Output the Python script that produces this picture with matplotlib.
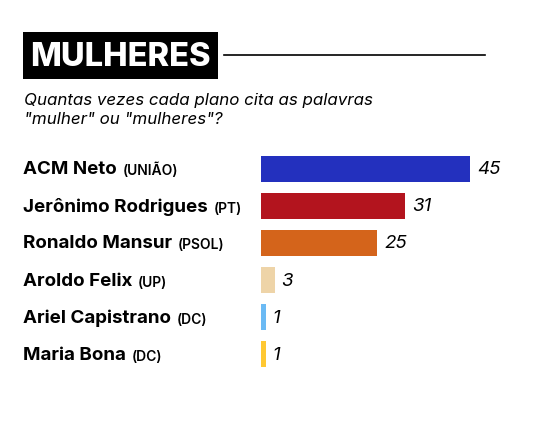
import matplotlib
matplotlib.use('Agg')
from matplotlib import pyplot as plt
from matplotlib.patches import Rectangle
from matplotlib.transforms import blended_transform_factory

names = ['ACM Neto', 'Jerônimo Rodrigues', 'Ronaldo Mansur', 'Aroldo Felix',
         'Ariel Capistrano', 'Maria Bona']
parties = ['(UNIÃO)', '(PT)', '(PSOL)', '(UP)', '(DC)', '(DC)']
counts = [45, 31, 25, 3, 1, 1]
colors = ['#2330BE', '#B3141E', '#D4641B', '#EED4A8', '#6BBAF4', '#FFC832']

W, H = 546, 431
fig = plt.figure(figsize=(W / 100, H / 100), dpi=100)
fig.patch.set_facecolor('white')

def fx(px):
    return px / W

def fy(py):
    return 1 - py / H

# title block
fig.patches.append(Rectangle((fx(23), fy(80)), fx(218) - fx(23), fy(33) - fy(80),
                             transform=fig.transFigure, facecolor='black',
                             edgecolor='none'))
fig.text(fx(120.5), fy(57), 'MULHERES', color='white', fontsize=23.5,
         fontweight='heavy', family='Inter', ha='center', va='center')
fig.add_artist(plt.Line2D([fx(224), fx(485)], [fy(56), fy(56)], color='black',
                          lw=1.2, transform=fig.transFigure))
fig.text(fx(24), fy(105), 'Quantas vezes cada plano cita as palavras',
         fontsize=12.2, style='italic', family='Inter', va='baseline')
fig.text(fx(24), fy(124), '"mulher" ou "mulheres"?',
         fontsize=12.2, style='italic', family='Inter', va='baseline')

# bars
ax = fig.add_axes([fx(261), fy(374), fx(540) - fx(261), fy(151) - fy(374)])
ypos = list(range(len(counts)))
ax.barh(ypos, counts, height=0.70, color=colors)
ax.set_xlim(0, (540 - 261) / (209 / 45))
ax.set_ylim(len(counts) - 0.5, -0.5)
ax.axis('off')

for y, v in zip(ypos, counts):
    ax.annotate(str(v), xy=(v, y), xytext=(5, 0), textcoords='offset points',
                ha='left', va='center', fontsize=13.5, style='italic',
                family='Inter')

trans = blended_transform_factory(fig.transFigure, ax.transData)
for y, name, party in zip(ypos, names, parties):
    t = ax.text(fx(23), y, name, transform=trans, ha='left', va='center',
                fontsize=13.5, fontweight='bold', family='Inter')
    ax.annotate(party, xy=(1, 0), xycoords=t, xytext=(4, 0),
                textcoords='offset points', ha='left', va='bottom',
                fontsize=10, fontweight='semibold', family='Inter')

fig.savefig('out.png', dpi=100)
